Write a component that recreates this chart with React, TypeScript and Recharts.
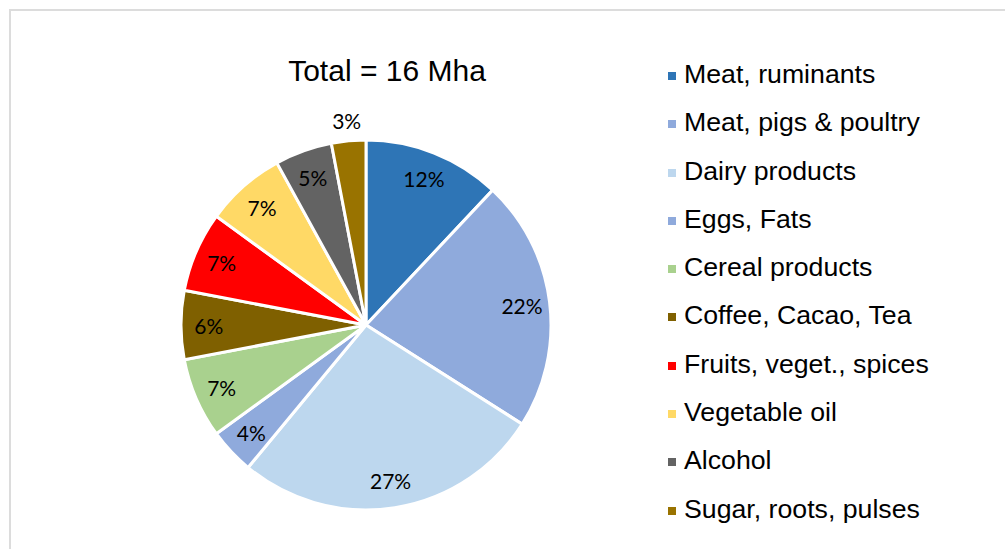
import React from 'react';
import { PieChart, Pie, Cell, Legend } from 'recharts';

const categories = [
  'Meat, ruminants',
  'Meat, pigs & poultry',
  'Dairy products',
  'Eggs, Fats',
  'Cereal products',
  'Coffee, Cacao, Tea',
  'Fruits, veget., spices',
  'Vegetable oil',
  'Alcohol',
  'Sugar, roots, pulses',
];
const shares = [12, 22, 27, 4, 7, 6, 7, 7, 5, 3];
const colors = [
  '#2E75B6',
  '#8FAADC',
  '#BDD7EE',
  '#8FAADC',
  '#A9D18E',
  '#7F6000',
  '#FF0000',
  '#FFD966',
  '#636363',
  '#997300',
];
const titleText = 'Total = 16 Mha';

const data = categories.map((name, i) => ({ name, value: shares[i] }));

const RADIAN = Math.PI / 180;

const renderLabel = (props: any) => {
  const { cx, cy, midAngle, outerRadius, value } = props;
  const r = value <= 3 ? outerRadius + 20 : outerRadius * 0.85;
  const x = cx + r * Math.cos(-midAngle * RADIAN);
  const y = cy + r * Math.sin(-midAngle * RADIAN);
  return (
    <text
      x={x}
      y={y}
      textAnchor="middle"
      dominantBaseline="central"
      fill="#000"
      style={{ fontFamily: 'Lato, "Open Sans", sans-serif', fontSize: 21 }}
    >
      {`${value}%`}
    </text>
  );
};

const renderLegend = () => {
  return (
    <div style={{ position: 'relative' }}>
      {categories.map((name, i) => (
        <div key={name} style={{ position: 'relative', height: 48.3, width: 330 }}>
          <div
            style={{
              position: 'absolute',
              left: 8,
              top: 22,
              width: 8,
              height: 8,
              background: colors[i],
            }}
          />
          <div
            style={{
              position: 'absolute',
              left: 24,
              top: 0,
              lineHeight: '48.3px',
              fontSize: 26.7,
              fontFamily: '"Liberation Sans", Arial, sans-serif',
              color: '#000',
              whiteSpace: 'nowrap',
            }}
          >
            {name}
          </div>
        </div>
      ))}
    </div>
  );
};

export default function App() {
  return (
    <div
      style={{
        position: 'absolute',
        left: 0,
        top: 0,
        width: 1005,
        height: 549,
        overflow: 'hidden',
        background: '#fff',
      }}
    >
      <div
        style={{
          position: 'absolute',
          left: 9,
          top: 9,
          width: 1100,
          height: 700,
          border: '2px solid #DCDCDC',
          boxSizing: 'border-box',
        }}
      />
      <div
        style={{
          position: 'absolute',
          left: 187,
          width: 400,
          top: 51,
          textAlign: 'center',
          fontFamily: '"Liberation Sans", Arial, sans-serif',
          fontSize: 30,
          lineHeight: '40px',
          color: '#000',
        }}
      >
        {titleText}
      </div>
      <div style={{ position: 'absolute', left: 0, top: 0 }}>
        <PieChart width={1005} height={549} margin={{ top: 0, right: 0, bottom: 0, left: 0 }}>
          <Pie
            data={data}
            dataKey="value"
            nameKey="name"
            cx={366}
            cy={325}
            outerRadius={185}
            startAngle={90}
            endAngle={-270}
            stroke="#FFFFFF"
            strokeWidth={3}
            label={renderLabel}
            labelLine={false}
            isAnimationActive={false}
          >
            {data.map((d, i) => (
              <Cell key={d.name} fill={colors[i]} />
            ))}
          </Pie>
          <Legend
            layout="vertical"
            align="right"
            verticalAlign="top"
            content={renderLegend}
            wrapperStyle={{ position: 'absolute', left: 660, top: 50, width: 340 }}
          />
        </PieChart>
      </div>
    </div>
  );
}
